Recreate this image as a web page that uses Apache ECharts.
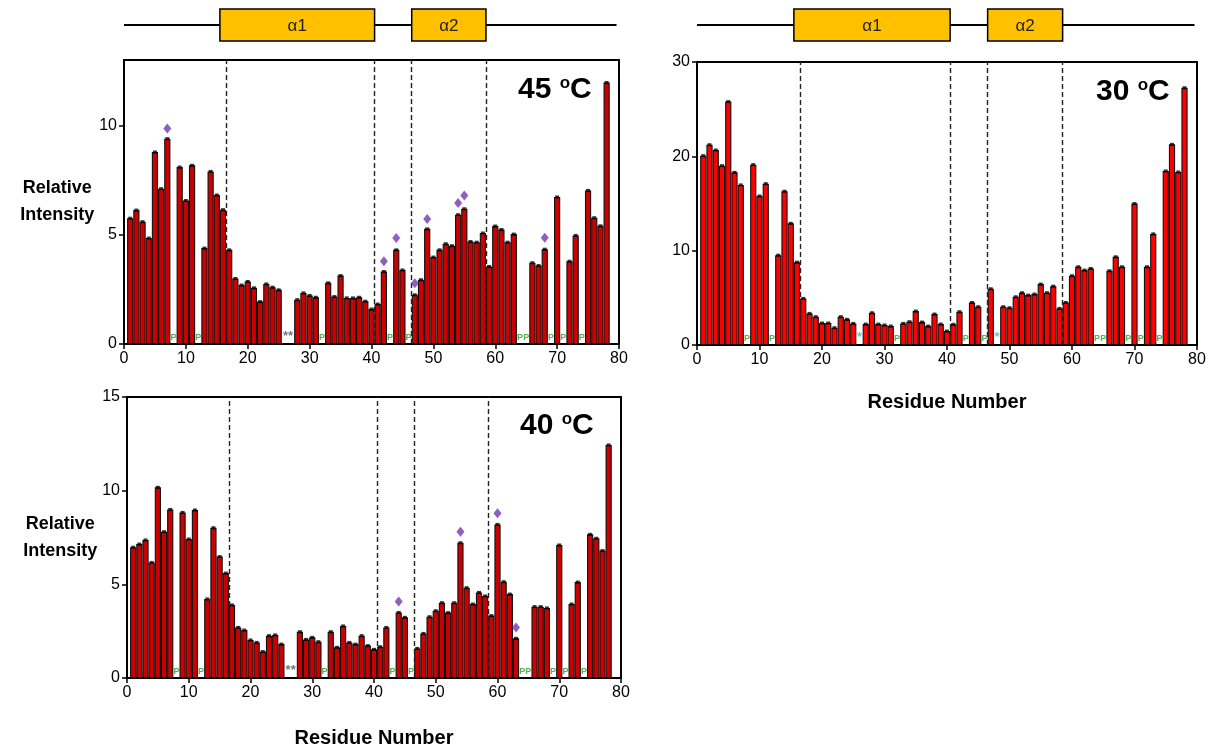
<!DOCTYPE html>
<html>
<head>
<meta charset="utf-8">
<title>Relative Intensity vs Residue Number</title>
<script src="https://cdn.jsdelivr.net/npm/echarts@6/dist/echarts.min.js"></script>
<style>
html, body { margin: 0; padding: 0; background: #fff; }
#chart { width: 1215px; height: 753px; }
</style>
</head>
<body>
<div id="chart"></div>
<script>
// relative intensity per residue (index 0 = residue 1), null = no peak
var vals45 = [5.76, 6.13, 5.6, 4.85, 8.79, 7.11, 9.4, null, 8.1, 6.57,
	8.18, null, 4.39, 7.9, 6.82, 6.15, 4.31, 3.0, 2.7, 2.86,
	2.57, 1.94, 2.75, 2.6, 2.48, null, null, 2.03, 2.34, 2.22,
	2.14, null, 2.8, 2.17, 3.13, 2.11, 2.11, 2.14, 1.96, 1.6,
	1.83, 3.32, null, 4.31, 3.39, null, 2.25, 2.94, 5.27, 3.98,
	4.31, 4.59, 4.5, 5.92, 6.19, 4.69, 4.66, 5.08, 3.55, 5.4,
	5.24, 4.66, 5.03, null, null, 3.72, 3.59, 4.34, null, 6.73,
	null, 3.79, 4.97, null, 7.03, 5.78, 5.41, 11.97];
var vals30 = [20.07, 21.23, 20.67, 19.01, 25.8, 18.3, 16.97, null, 19.12, 15.8,
	17.1, null, 9.52, 16.3, 12.9, 8.78, 4.94, 3.35, 3.0, 2.33,
	2.33, 1.83, 3.0, 2.72, 2.29, null, 2.22, 3.42, 2.22, 2.12,
	2.01, null, 2.29, 2.47, 3.6, 2.43, 2.01, 3.28, 2.22, 1.48,
	2.19, 3.53, null, 4.51, 4.06, null, 5.96, null, 4.06, 3.95,
	5.11, 5.54, 5.29, 5.4, 6.46, 5.54, 6.24, 3.88, 4.51, 7.34,
	8.29, 7.94, 8.11, null, null, 7.87, 9.35, 8.29, null, 14.99,
	null, 8.29, 11.78, null, 18.45, 21.27, 18.34, 27.27];
var vals40 = [6.98, 7.15, 7.37, 6.17, 10.18, 7.81, 9.0, null, 8.84, 7.42,
	8.97, null, 4.22, 8.02, 6.48, 5.6, 3.9, 2.7, 2.56, 2.03,
	1.9, 1.41, 2.26, 2.3, 1.81, null, null, 2.47, 2.06, 2.17,
	1.94, null, 2.47, 1.64, 2.78, 1.9, 1.81, 2.26, 1.73, 1.53,
	1.67, 2.7, null, 3.5, 3.24, null, 1.58, 2.38, 3.27, 3.59,
	4.02, 3.49, 4.02, 7.22, 4.82, 3.95, 4.57, 4.38, 3.33, 8.2,
	5.14, 4.48, 2.12, null, null, 3.81, 3.81, 3.74, null, 7.1,
	null, 3.95, 5.12, null, 7.67, 7.46, 6.8, 12.44];

// purple diamonds [residue, height]
var diamonds45 = [[7, 9.86], [42, 3.79], [44, 4.85], [47, 2.78], [49, 5.72], [54, 6.45], [55, 6.8], [68, 4.86]];
var diamonds40 = [[44, 4.09], [54, 7.81], [60, 8.79], [63, 2.69]];

// proline residues (marked P) and unassigned residues (marked *)
var prolines = [8, 12, 32, 43, 46, 64, 65, 69, 71, 74];
var stars45 = [26.5];
var stars40 = [26.5];
var stars30 = [26, 48];

var dividers = [16.5, 40.5, 46.5, 58.5];
var helices = [['α1', 15.5, 40.5], ['α2', 46.5, 58.5]];

var font = "'Liberation Sans', Arial, sans-serif";

function toPoints(vals) {
	var out = [];
	vals.forEach(function(v, i) {
		if (v !== null) out.push([i + 1, v]);
	});
	return out;
}

function xAxisFor(idx, name, gap) {
	return {
		gridIndex: idx, type: 'value', min: 0, max: 80, interval: 10,
		name: name || '', nameLocation: 'middle', nameGap: gap || 30,
		nameTextStyle: { fontFamily: font, fontSize: 20, fontWeight: 'bold', color: '#000', verticalAlign: 'middle' },
		axisLine: { onZero: false, lineStyle: { color: '#000', width: 2 } },
		axisTick: { show: true, inside: false, length: 5, lineStyle: { color: '#000', width: 1.5 } },
		axisLabel: { fontFamily: font, fontSize: 16, color: '#000', margin: 7 },
		splitLine: { show: false }
	};
}

function yAxisFor(idx, max, interval, name) {
	var ticks = [];
	for (var t = 0; t <= max; t += interval) ticks.push(t);
	return {
		gridIndex: idx, type: 'value', min: 0, max: max, interval: interval,
		name: name || '', nameLocation: 'middle', nameGap: 66, nameRotate: 0,
		nameTextStyle: { fontFamily: font, fontSize: 18, fontWeight: 'bold', color: '#000', lineHeight: 27, align: 'center', verticalAlign: 'middle' },
		axisLine: { show: true, lineStyle: { color: '#000', width: 2 } },
		axisTick: { show: true, inside: false, length: 5, customValues: ticks, lineStyle: { color: '#000', width: 1.5 } },
		axisLabel: { fontFamily: font, fontSize: 16, color: '#000', margin: 7, customValues: ticks },
		splitLine: { show: false }
	};
}

function markerLabels(idx, xs, text, color, size) {
	return {
		type: 'scatter', xAxisIndex: idx, yAxisIndex: idx,
		data: xs.map(function(p) { return [p, 0]; }),
		symbolSize: 1, itemStyle: { color: 'rgba(0,0,0,0)' }, z: 7,
		label: { show: true, formatter: text, position: 'top', distance: 1, color: color, fontSize: size, fontWeight: 'bold', fontFamily: font }
	};
}

function panelSeries(idx, vals, color, diamonds, stars, starColor) {
	var pts = toPoints(vals);
	var list = [
		{
			type: 'bar', xAxisIndex: idx, yAxisIndex: idx, data: pts, barWidth: 6.2,
			itemStyle: { color: color, borderColor: '#111', borderWidth: 1.1 },
			markLine: {
				silent: true, symbol: 'none', label: { show: false },
				lineStyle: { color: '#222', type: [5, 3], width: 1.4 },
				data: dividers.map(function(d) { return { xAxis: d }; })
			}
		},
		{
			type: 'scatter', xAxisIndex: idx, yAxisIndex: idx, data: pts,
			symbol: 'rect', symbolSize: [4, 3], itemStyle: { color: '#000' }, z: 5
		},
		markerLabels(idx, prolines, 'P', '#2a9d2a', 9),
		markerLabels(idx, stars, stars.length === 1 ? '**' : '*', starColor, 13)
	];
	if (diamonds) {
		list.push({
			type: 'scatter', xAxisIndex: idx, yAxisIndex: idx, data: diamonds,
			symbol: 'diamond', symbolSize: [8, 10], itemStyle: { color: '#7436b0' }, z: 6
		});
	}
	return list;
}

function topoSeries(idx) {
	return [
		{
			type: 'line', xAxisIndex: idx, yAxisIndex: idx, data: [[0, 0.5], [79.6, 0.5]],
			symbol: 'none', lineStyle: { color: '#000', width: 2 }, z: 1
		},
		{
			type: 'custom', xAxisIndex: idx, yAxisIndex: idx, z: 3,
			data: helices.map(function(h) { return [h[1], h[2]]; }),
			renderItem: function(params, api) {
				var p0 = api.coord([api.value(0), 1]);
				var p1 = api.coord([api.value(1), 0]);
				return {
					type: 'group',
					children: [
						{ type: 'rect', shape: { x: p0[0], y: p0[1], width: p1[0] - p0[0], height: p1[1] - p0[1] },
							style: { fill: '#ffc000', stroke: '#000', lineWidth: 1.5 } },
						{ type: 'text', style: { text: helices[params.dataIndex][0], x: (p0[0] + p1[0]) / 2, y: (p0[1] + p1[1]) / 2 + 1,
							align: 'center', verticalAlign: 'middle', fontSize: 17, fontFamily: font, fill: '#222' } }
					]
				};
			}
		}
	];
}

function tempTitle(t, left, top) {
	return {
		text: '{a|' + t + ' }{b|o}{a|C}', left: left, top: top, padding: 0,
		textStyle: {
			rich: {
				a: { fontFamily: font, fontSize: 30, fontWeight: 'bold', color: '#000', lineHeight: 30 },
				b: { fontFamily: font, fontSize: 17, fontWeight: 'bold', color: '#000', lineHeight: 17, verticalAlign: 'top' }
			}
		}
	};
}

var myChart = echarts.init(document.getElementById('chart'));
myChart.setOption({
	animation: false,
	backgroundColor: '#fff',
	title: [tempTitle('45', 518, 75), tempTitle('30', 1096, 77), tempTitle('40', 520, 411)],
	grid: [
		{ left: 124, top: 60, width: 495, height: 284, show: true, borderColor: '#000', borderWidth: 2 },
		{ left: 697, top: 62, width: 500, height: 283, show: true, borderColor: '#000', borderWidth: 2 },
		{ left: 127, top: 397, width: 494, height: 281, show: true, borderColor: '#000', borderWidth: 2 },
		{ left: 124, top: 9, width: 495, height: 32 },
		{ left: 697, top: 9, width: 500, height: 32 }
	],
	xAxis: [
		xAxisFor(0),
		xAxisFor(1, 'Residue Number', 57),
		xAxisFor(2, 'Residue Number', 60),
		{ gridIndex: 3, type: 'value', min: 0, max: 80, show: false },
		{ gridIndex: 4, type: 'value', min: 0, max: 80, show: false }
	],
	yAxis: [
		yAxisFor(0, 13, 5, 'Relative\nIntensity'),
		yAxisFor(1, 30, 10),
		yAxisFor(2, 15, 5, 'Relative\nIntensity'),
		{ gridIndex: 3, type: 'value', min: 0, max: 1, show: false },
		{ gridIndex: 4, type: 'value', min: 0, max: 1, show: false }
	],
	series: [].concat(
		panelSeries(0, vals45, '#cc0000', diamonds45, stars45, '#44546a'),
		panelSeries(1, vals30, '#ff0000', null, stars30, '#4bacc6'),
		panelSeries(2, vals40, '#cc0000', diamonds40, stars40, '#44546a'),
		topoSeries(3),
		topoSeries(4)
	)
});
</script>
</body>
</html>
